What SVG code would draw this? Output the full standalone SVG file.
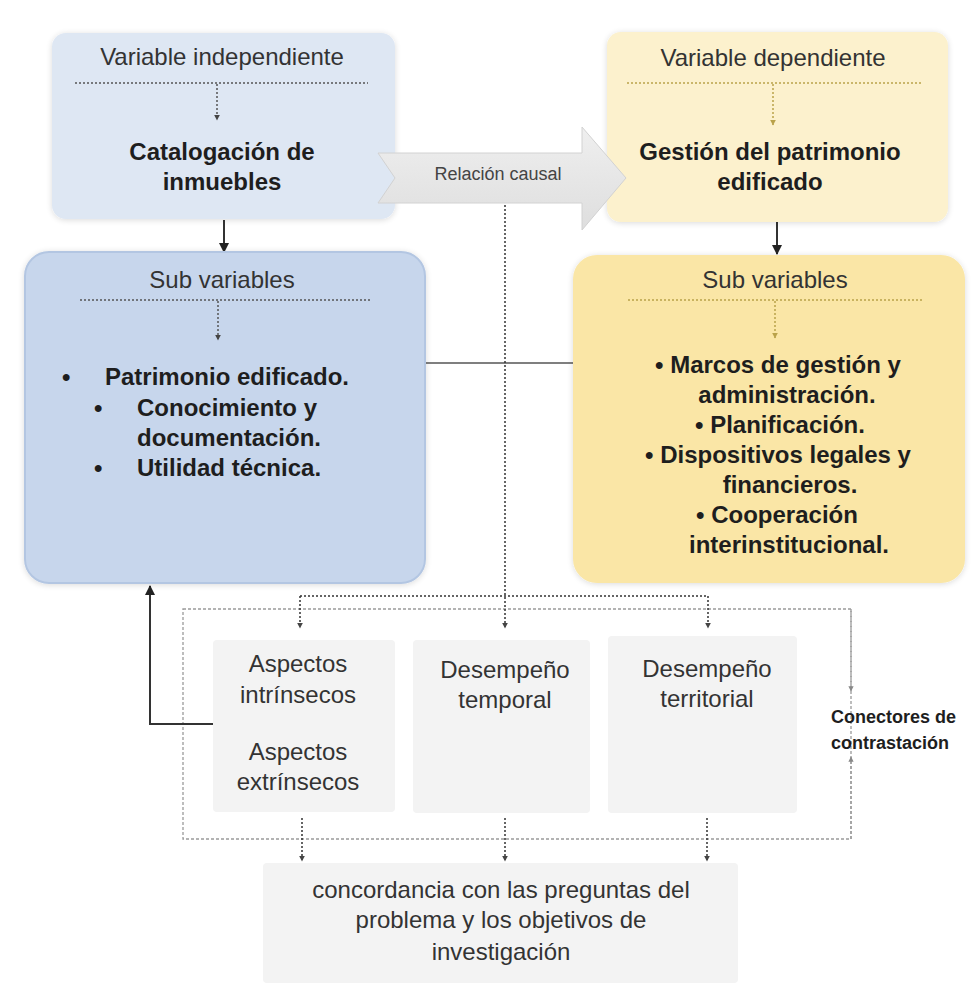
<svg xmlns="http://www.w3.org/2000/svg" width="971" height="994" viewBox="0 0 971 994">
<style>
.reg{font-family:"Liberation Sans",Arial,sans-serif;font-size:24px;fill:#333;text-anchor:middle}
.bold{font-family:"Liberation Sans",Arial,sans-serif;font-size:24px;font-weight:bold;fill:#1e1e1e}
.mid{text-anchor:middle}
.rel{font-family:"Liberation Sans",Arial,sans-serif;font-size:18px;fill:#444;text-anchor:middle}
.con{font-family:"Liberation Sans",Arial,sans-serif;font-size:18px;font-weight:bold;fill:#1e1e1e}
.dotb{stroke:#555;stroke-width:1.5;stroke-dasharray:2 2;fill:none}
.doty{stroke:#b9a24a;stroke-width:1.5;stroke-dasharray:2 2;fill:none}
.dotg{stroke:#9a9a9a;stroke-width:1.3;stroke-dasharray:3 2;fill:none}
.dotk{stroke:#333;stroke-width:1.5;stroke-dasharray:2 2;fill:none}
.solid{stroke:#333;stroke-width:2;fill:none}
.faint{fill:#f3f3f3}
</style>
<defs>
<marker id="ah" viewBox="0 0 10 10" refX="9" refY="5" markerWidth="5" markerHeight="5" orient="auto"><path d="M0,0 L10,5 L0,10 z" fill="#222"/></marker>
<marker id="ahs" viewBox="0 0 10 10" refX="9" refY="5" markerWidth="4" markerHeight="4" orient="auto"><path d="M0,0 L10,5 L0,10 z" fill="#444"/></marker>
<marker id="ahy" viewBox="0 0 10 10" refX="9" refY="5" markerWidth="4" markerHeight="4" orient="auto"><path d="M0,0 L10,5 L0,10 z" fill="#b9a24a"/></marker>
<marker id="ahg" viewBox="0 0 10 10" refX="9" refY="5" markerWidth="4" markerHeight="4" orient="auto"><path d="M0,0 L10,5 L0,10 z" fill="#888"/></marker>
<linearGradient id="arrg" x1="0" y1="0" x2="0" y2="1"><stop offset="0" stop-color="#efefef"/><stop offset="1" stop-color="#dedede"/></linearGradient>
<filter id="soft" x="-5%" y="-5%" width="110%" height="110%"><feGaussianBlur in="SourceAlpha" stdDeviation="3"/><feOffset dx="0" dy="1"/><feComponentTransfer><feFuncA type="linear" slope="0.15"/></feComponentTransfer><feMerge><feMergeNode/><feMergeNode in="SourceGraphic"/></feMerge></filter>
</defs>
<rect width="971" height="994" fill="#ffffff"/>

<g id="bottom-frame">
<rect x="183" y="609" width="668" height="230" class="dotg"/>
</g>

<g id="node-aspectos">
<rect x="213" y="640" width="182" height="172" class="faint" rx="4"/>
<text class="reg" x="298" y="672">Aspectos</text>
<text class="reg" x="298" y="703">intrínsecos</text>
<text class="reg" x="298" y="760">Aspectos</text>
<text class="reg" x="298" y="790">extrínsecos</text>
</g>

<g id="node-temporal">
<rect x="413" y="640" width="177" height="173" class="faint" rx="4"/>
<text class="reg" x="505" y="678">Desempeño</text>
<text class="reg" x="505" y="708">temporal</text>
</g>

<g id="node-territorial">
<rect x="608" y="636" width="189" height="177" class="faint" rx="4"/>
<text class="reg" x="707" y="677">Desempeño</text>
<text class="reg" x="707" y="707">territorial</text>
</g>

<g id="node-concordancia">
<rect x="263" y="863" width="475" height="120" class="faint" rx="4"/>
<text class="reg" x="501" y="898">concordancia con las preguntas del</text>
<text class="reg" x="501" y="928">problema y los objetivos de</text>
<text class="reg" x="501" y="960">investigación</text>
</g>

<g id="node-conectores">
<text class="con" x="831" y="723">Conectores de</text>
<text class="con" x="831" y="749">contrastación</text>
</g>

<g id="connectors">
<line x1="425" y1="363" x2="573" y2="363" stroke="#555" stroke-width="1.5"/>
<line x1="224" y1="220" x2="224" y2="252" class="solid" marker-end="url(#ah)"/>
<line x1="777" y1="222" x2="777" y2="254" class="solid" marker-end="url(#ah)"/>
<polyline points="213,724 150,724 150,586" class="solid" marker-end="url(#ah)"/>
<line x1="505" y1="205" x2="505" y2="628" class="dotk" marker-end="url(#ahs)"/>
<line x1="300" y1="596" x2="708" y2="596" class="dotk"/>
<line x1="300" y1="596" x2="300" y2="628" class="dotk" marker-end="url(#ahs)"/>
<line x1="708" y1="596" x2="708" y2="628" class="dotk" marker-end="url(#ahs)"/>
<line x1="851" y1="609" x2="851" y2="691" class="dotg" marker-end="url(#ahg)"/>
<line x1="851" y1="839" x2="851" y2="757" class="dotg" marker-end="url(#ahg)"/>
<line x1="302" y1="818" x2="302" y2="861" class="dotk" marker-end="url(#ahs)"/>
<line x1="505" y1="818" x2="505" y2="861" class="dotk" marker-end="url(#ahs)"/>
<line x1="707" y1="818" x2="707" y2="861" class="dotk" marker-end="url(#ahs)"/>
</g>

<g id="node-var-independiente">
<rect x="52" y="33" width="343" height="186" rx="14" fill="#dee7f3" filter="url(#soft)"/>
<text class="reg" x="222" y="65">Variable independiente</text>
<line x1="75" y1="83" x2="368" y2="83" class="dotb"/>
<line x1="217" y1="84" x2="217" y2="120" class="dotb" marker-end="url(#ahs)"/>
<text class="bold mid" x="222" y="160">Catalogación de</text>
<text class="bold mid" x="222" y="190">inmuebles</text>
</g>

<g id="node-sub-independiente">
<rect x="25" y="252" width="400" height="331" rx="24" fill="#c7d6ec" stroke="#b3c6e2" stroke-width="2" filter="url(#soft)"/>
<text class="reg" x="222" y="288">Sub variables</text>
<line x1="80" y1="300" x2="370" y2="300" class="dotb"/>
<line x1="218" y1="301" x2="218" y2="340" class="dotb" marker-end="url(#ahs)"/>
<text class="bold" x="62" y="385">•</text>
<text class="bold" x="105" y="385">Patrimonio edificado.</text>
<text class="bold" x="94" y="416">•</text>
<text class="bold" x="137" y="416">Conocimiento y</text>
<text class="bold" x="137" y="446">documentación.</text>
<text class="bold" x="94" y="476">•</text>
<text class="bold" x="137" y="476">Utilidad técnica.</text>
</g>

<g id="node-var-dependiente">
<rect x="607" y="32" width="341" height="190" rx="14" fill="#fcf1cd" filter="url(#soft)"/>
<text class="reg" x="773" y="66">Variable dependiente</text>
<line x1="627" y1="83" x2="923" y2="83" class="doty"/>
<line x1="773" y1="84" x2="773" y2="125" class="doty" marker-end="url(#ahy)"/>
<text class="bold mid" x="770" y="160">Gestión del patrimonio</text>
<text class="bold mid" x="770" y="190">edificado</text>
</g>

<g id="node-sub-dependiente">
<rect x="573" y="255" width="392" height="328" rx="24" fill="#fae6a6" filter="url(#soft)"/>
<text class="reg" x="775" y="288">Sub variables</text>
<line x1="628" y1="300" x2="922" y2="300" class="doty"/>
<line x1="775" y1="301" x2="775" y2="338" class="doty" marker-end="url(#ahy)"/>
<text class="bold mid" x="778" y="373">• Marcos de gestión y</text>
<text class="bold mid" x="787" y="403">administración.</text>
<text class="bold mid" x="780" y="433">• Planificación.</text>
<text class="bold mid" x="778" y="463">• Dispositivos legales y</text>
<text class="bold mid" x="790" y="493">financieros.</text>
<text class="bold mid" x="777" y="523">• Cooperación</text>
<text class="bold mid" x="789" y="553">interinstitucional.</text>
</g>

<g id="node-relacion-causal">
<path d="M378,153 L582,153 L582,127 L626,178 L582,230 L582,203 L378,203 L395,178 Z" fill="url(#arrg)" stroke="#d2d2d2" stroke-width="1"/>
<text class="rel" x="498" y="180">Relación causal</text>
</g>
</svg>
